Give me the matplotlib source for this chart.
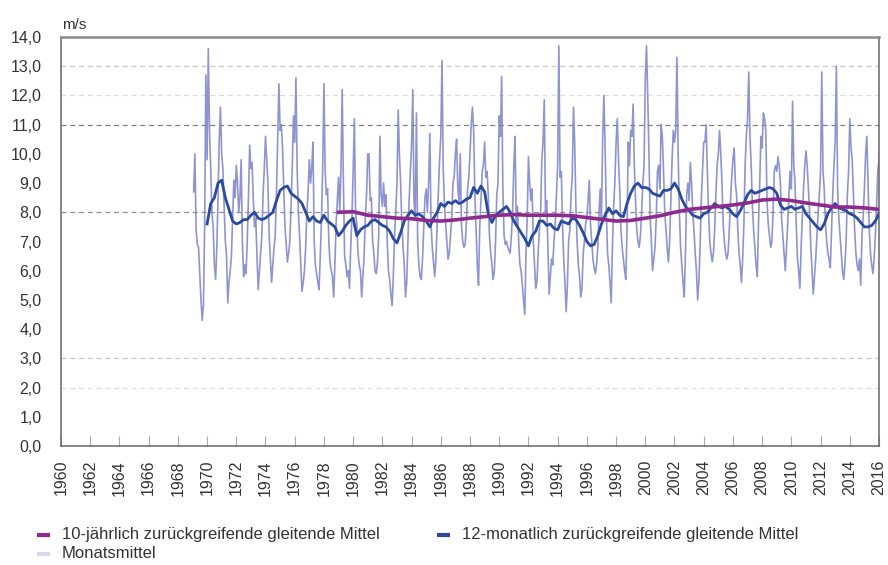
import matplotlib
matplotlib.use("Agg")
import matplotlib.pyplot as plt
from matplotlib.lines import Line2D
import numpy as np

plt.rcParams['font.family'] = ['Liberation Sans', 'DejaVu Sans']

# ---------------- data ----------------
first_year = 1969
# monthly means (m/s), Jan..Dec for each year
monthly_1969 = [8.7, 10.0, 7.4, 6.9, 6.8, 5.9, 5.0, 4.3, 4.8, 7.5, 12.7, 9.8]
monthly_1970s = [
    13.6, 10.8, 9.5, 8.0, 7.5, 6.2, 5.7, 6.8, 8.5, 10.5, 11.6, 10.0,   # 1970
    9.5, 8.2, 7.0, 6.5, 4.9, 5.6, 6.0, 6.5, 7.8, 9.1, 8.5, 9.6,       # 1971
    9.0, 8.0, 8.5, 9.8, 7.0, 5.8, 6.2, 5.9, 7.0, 8.5, 10.3, 9.5,      # 1972
    9.7, 8.4, 7.5, 7.8, 6.5, 5.35, 6.0, 6.6, 7.2, 8.6, 9.5, 10.6,     # 1973
    9.8, 9.0, 7.2, 6.4, 5.6, 6.2, 6.8, 7.2, 8.6, 10.5, 12.4, 10.8,    # 1974
    11.0, 10.2, 8.8, 7.5, 6.9, 6.3, 6.6, 7.0, 8.2, 9.6, 11.3, 10.4,   # 1975
    12.6, 9.5, 8.0, 7.2, 6.2, 5.3, 5.6, 6.0, 6.8, 8.0, 8.7, 9.8,      # 1976
    9.0, 9.5, 10.4, 7.0, 6.2, 5.9, 5.6, 5.35, 6.5, 7.8, 9.5, 12.4,    # 1977
    9.4, 8.6, 8.8, 7.0, 6.3, 6.0, 5.8, 5.1, 6.2, 7.6, 8.4, 9.2,       # 1978
    8.0, 9.5, 12.2, 9.0, 6.5, 6.2, 5.8, 6.0, 5.4, 6.8, 7.8, 9.4,      # 1979
]
monthly_1980s = [
    11.2, 8.0, 7.6, 6.6, 6.2, 6.0, 5.1, 5.8, 6.5, 7.8, 8.6, 10.0,     # 1980
    10.0, 8.4, 8.5, 7.0, 6.6, 6.0, 5.9, 6.3, 7.2, 10.6, 8.6, 8.2,     # 1981
    9.0, 8.2, 8.6, 7.0, 6.0, 5.7, 5.2, 4.8, 5.8, 7.2, 8.0, 9.0,       # 1982
    11.5, 10.0, 9.0, 7.6, 6.8, 6.2, 5.1, 5.6, 7.0, 8.4, 9.4, 10.3,    # 1983
    12.2, 8.4, 7.8, 11.4, 7.0, 6.2, 5.8, 5.7, 6.4, 7.5, 8.5, 8.8,     # 1984
    8.0, 9.0, 10.7, 7.6, 6.8, 6.3, 5.8, 6.4, 7.5, 8.6, 9.8, 10.6,     # 1985
    13.2, 9.5, 8.3, 7.6, 7.0, 6.4, 6.6, 7.2, 7.8, 9.0, 9.2, 10.0,     # 1986
    10.5, 8.8, 8.4, 10.0, 7.6, 7.0, 6.8, 6.9, 7.6, 8.8, 9.2, 10.0,    # 1987
    11.0, 11.6, 10.8, 8.6, 7.4, 6.2, 5.5, 7.5, 8.4, 9.4, 9.6, 10.4,   # 1988
    9.2, 9.4, 8.6, 7.2, 6.6, 6.2, 5.7, 6.0, 7.0, 8.6, 9.0, 11.3,      # 1989
]
monthly_1990s = [
    10.6, 12.65, 8.8, 7.2, 6.9, 7.0, 6.8, 6.7, 6.6, 7.2, 8.0, 9.6,    # 1990
    10.6, 7.6, 8.2, 7.0, 6.2, 6.0, 5.5, 5.0, 4.5, 6.6, 7.8, 9.9,      # 1991
    9.0, 8.4, 8.8, 7.0, 6.2, 5.4, 5.6, 6.6, 7.4, 8.0, 9.8, 10.4,      # 1992
    11.85, 8.0, 8.4, 6.8, 5.2, 5.8, 6.4, 6.2, 7.0, 7.6, 8.6, 9.6,     # 1993
    13.7, 9.2, 9.4, 7.6, 6.4, 5.6, 4.6, 5.5, 7.0, 7.4, 8.6, 9.2,      # 1994
    11.6, 10.4, 8.2, 7.0, 6.2, 5.8, 5.1, 5.4, 6.6, 7.0, 7.6, 7.8,     # 1995
    8.4, 9.1, 7.6, 7.0, 6.4, 6.1, 5.9, 6.2, 6.8, 8.0, 8.8, 7.8,       # 1996
    10.6, 12.0, 10.2, 8.0, 6.6, 6.2, 5.6, 4.9, 6.8, 8.2, 9.0, 10.4,   # 1997
    11.2, 9.8, 8.8, 7.4, 6.8, 6.4, 6.0, 5.7, 7.4, 10.4, 9.6, 10.8,    # 1998
    10.6, 11.7, 9.6, 8.4, 7.4, 7.0, 6.8, 7.2, 8.0, 9.0, 9.6, 12.6,    # 1999
]
monthly_2000s = [
    13.7, 12.0, 10.0, 7.8, 7.0, 6.0, 6.4, 6.8, 7.8, 9.4, 9.6, 8.8,    # 2000
    11.0, 10.6, 9.4, 8.0, 7.4, 6.8, 6.3, 7.0, 8.4, 9.8, 10.8, 10.4,   # 2001
    10.8, 13.3, 10.0, 8.0, 6.8, 6.2, 5.6, 5.1, 6.6, 8.6, 9.0, 8.4,    # 2002
    9.7, 9.0, 8.0, 7.4, 6.6, 6.0, 5.0, 5.6, 6.8, 8.4, 9.4, 10.4,      # 2003
    10.4, 11.0, 9.4, 8.0, 7.0, 6.6, 6.3, 6.6, 7.4, 8.6, 9.6, 10.0,    # 2004
    10.8, 10.0, 9.0, 7.6, 7.0, 6.6, 6.4, 6.6, 7.4, 8.4, 9.2, 9.8,     # 2005
    10.2, 9.0, 8.6, 7.4, 6.6, 6.2, 5.6, 6.4, 7.6, 9.6, 10.6, 11.2,    # 2006
    12.8, 10.6, 9.6, 8.2, 7.4, 6.8, 6.2, 5.8, 7.6, 9.0, 10.6, 10.2,   # 2007
    11.4, 11.2, 10.8, 8.4, 7.6, 7.2, 6.8, 7.0, 8.0, 9.4, 9.6, 9.4,    # 2008
    9.9, 9.6, 9.0, 7.8, 7.2, 6.6, 6.0, 6.8, 7.6, 8.6, 9.4, 8.8,       # 2009
]
monthly_2010s = [
    11.8, 9.6, 9.0, 7.6, 6.4, 6.0, 5.4, 6.8, 7.8, 8.8, 9.6, 10.1,     # 2010
    9.6, 8.8, 8.0, 6.8, 6.0, 5.2, 5.8, 6.4, 7.2, 8.0, 8.6, 9.4,       # 2011
    12.8, 9.4, 8.8, 7.6, 7.0, 6.6, 6.4, 6.1, 7.4, 8.6, 9.6, 10.4,     # 2012
    13.0, 8.8, 7.8, 7.2, 6.6, 6.0, 5.7, 6.2, 7.0, 8.6, 9.4, 11.2,     # 2013
    10.2, 9.8, 8.6, 7.4, 6.6, 6.2, 6.0, 6.4, 5.5, 7.2, 7.8, 8.8,      # 2014
    10.0, 10.6, 9.0, 7.4, 6.6, 6.2, 5.9, 6.4, 7.2, 8.2, 9.4, 9.8,     # 2015
    10.4,                                                             # 2016 Jan
]

# 12-month moving average, read quarterly starting 1970.0
ma12_start = 1970.0
ma12_1970s = [7.6, 8.3, 8.5, 9.0, 9.1, 8.5, 8.1, 7.7, 7.6, 7.65, 7.75, 7.75,
              7.9, 8.0, 7.8, 7.75, 7.8, 7.9, 8.0, 8.4, 8.75, 8.85, 8.9, 8.65,
              8.55, 8.45, 8.3, 8.0, 7.7, 7.85, 7.7, 7.65, 7.9, 7.7, 7.6, 7.5,
              7.2, 7.35, 7.55, 7.7]
ma12_1980s = [7.8, 7.2, 7.4, 7.5, 7.55, 7.7, 7.75, 7.65, 7.55, 7.5, 7.35, 7.1,
              6.95, 7.3, 7.7, 7.9, 8.05, 7.9, 7.95, 7.85, 7.7, 7.5, 7.8, 8.0,
              8.3, 8.2, 8.35, 8.3, 8.4, 8.3, 8.35, 8.45, 8.5, 8.85, 8.65, 8.9,
              8.7, 7.95, 7.65, 7.9]
ma12_1990s = [8.0, 8.1, 8.2, 8.0, 7.7, 7.5, 7.3, 7.1, 6.85, 7.2, 7.35, 7.7,
              7.7, 7.55, 7.6, 7.45, 7.4, 7.7, 7.65, 7.6, 7.8, 7.75, 7.55, 7.3,
              7.0, 6.85, 6.9, 7.2, 7.6, 7.9, 8.15, 7.95, 8.05, 7.9, 7.85, 8.3,
              8.65, 8.9, 9.0, 8.85]
ma12_2000s = [8.85, 8.8, 8.65, 8.6, 8.55, 8.75, 8.75, 8.8, 9.0, 8.8, 8.45, 8.2,
              8.05, 7.9, 7.85, 7.8, 7.95, 8.0, 8.15, 8.3, 8.2, 8.15, 8.2, 8.1,
              7.95, 7.85, 8.05, 8.3, 8.6, 8.75, 8.65, 8.7, 8.75, 8.8, 8.85, 8.8,
              8.65, 8.25, 8.1, 8.15]
ma12_2010s = [8.2, 8.1, 8.15, 8.2, 7.95, 7.8, 7.65, 7.5, 7.4, 7.6, 7.95, 8.15,
              8.3, 8.15, 8.1, 8.05, 7.95, 7.9, 7.8, 7.65, 7.5, 7.5, 7.55, 7.7,
              7.95]

# 10-year moving average, yearly from 1979
ma120_years = list(range(1979, 2017))
ma120_values = [8.00, 8.02, 7.90, 7.85, 7.80, 7.78, 7.72, 7.70, 7.74, 7.80,
                7.85, 7.90, 7.92, 7.90, 7.90, 7.90, 7.88, 7.82, 7.76, 7.70,
                7.72, 7.80, 7.88, 8.00, 8.10, 8.15, 8.20, 8.25, 8.32, 8.42,
                8.45, 8.40, 8.32, 8.25, 8.18, 8.18, 8.15, 8.10]

y_ticks = [0, 1, 2, 3, 4, 5, 6, 7, 8, 9, 10, 11, 12, 13, 14]
x_ticks = list(range(1960, 2017, 2))
legend_labels = ["10-jährlich zurückgreifende gleitende Mittel",
                 "12-monatlich zurückgreifende gleitende Mittel",
                 "Monatsmittel"]

# ---------------- assemble ----------------
monthly = np.array(monthly_1969 + monthly_1970s + monthly_1980s +
                   monthly_1990s + monthly_2000s + monthly_2010s)
t_month = first_year + (np.arange(len(monthly)) + 1) / 12.0
ma12 = np.array(ma12_1970s + ma12_1980s + ma12_1990s + ma12_2000s + ma12_2010s)
t_ma12 = ma12_start + np.arange(len(ma12)) * 0.25

# ---------------- figure ----------------
W, H = 888, 565
fig = plt.figure(figsize=(W / 100, H / 100), dpi=100)
ax = fig.add_axes([61 / W, 1 - 446 / H, (879 - 61) / W, (446 - 37) / H])

txt = '#333333'
c_month = '#7c82c9'
c_ma12 = '#2b4a9d'
c_ma120 = '#8e2a8e'

# grid lines (as visible in the reference)
for lv, col in [(13, '#c8c8c8'), (12, '#dddddd'), (11, '#808080'), (8, '#909090'),
                (3, '#c8c8c8'), (2, '#dddddd')]:
    ax.axhline(lv, color=col, lw=0.9, ls=(0, (4, 3)), zorder=0)

ax.plot(t_month, monthly, color=c_month, lw=1.2, alpha=0.85, zorder=2, clip_on=True)
ax.plot(t_ma12, ma12, color=c_ma12, lw=2.0, zorder=3)
ax.plot(ma120_years, ma120_values, color=c_ma120, lw=2.6, zorder=4)

ax.set_xlim(1960, 2016)
ax.set_ylim(0, 14)
ax.set_yticks(y_ticks)
ax.set_yticklabels([f"{v:.1f}".replace('.', ',') for v in y_ticks])
ax.set_xticks(x_ticks)
ax.set_xticklabels([str(y) for y in x_ticks], rotation=90)
ax.tick_params(axis='y', length=0, pad=14, labelsize=11.5, labelcolor=txt)
ax.tick_params(axis='x', direction='in', length=7, width=0.8, color='#aaaaaa',
               pad=10, labelsize=11.5, labelcolor=txt)

for side in ['left', 'bottom', 'right']:
    ax.spines[side].set_color('#666666')
    ax.spines[side].set_linewidth(1.1)
ax.spines['top'].set_color('#8a8a8a')
ax.spines['top'].set_linewidth(1.8)

fig.text(62 / W, 1 - 25 / H, "m/s", fontsize=11, color=txt, va='center', ha='left')

# legend (manual, to match layout)
entries = [(legend_labels[0], c_ma120, 37, 535),
           (legend_labels[1], c_ma12, 437, 535),
           (legend_labels[2], '#d6d8ef', 37, 554)]
for lab, col, xpx, ypx in entries:
    fig.add_artist(Line2D([xpx / W, (xpx + 13) / W], [1 - ypx / H, 1 - ypx / H],
                          color=col, lw=3, solid_capstyle='butt'))
    fig.text((xpx + 25) / W, 1 - ypx / H, lab, fontsize=12, color=txt,
             va='center', ha='left')

fig.savefig("out.png", dpi=100)
